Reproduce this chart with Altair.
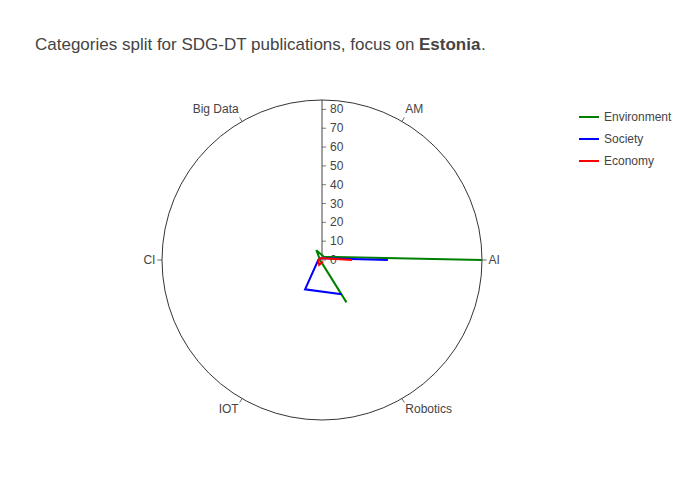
import math
import altair as alt
import pandas as pd

categories = ["AI", "AM", "Big Data", "CI", "IOT", "Robotics"]
angles = [0, 60, 120, 180, 240, 300]
environment = [85, 2, 6, 1, 1, 26]
society = [35, 1, 1, 2, 18, 21]
economy = [16, 1, 1, 2, 3, 1]
radial_ticks = [0, 10, 20, 30, 40, 50, 60, 70, 80]
R = 85

rows = []
for name, vals in [("Environment", environment), ("Society", society), ("Economy", economy)]:
    for i in range(len(categories)):
        rows.append({"series": name, "order": i, "r": vals[i], "angle": angles[i]})
df = pd.DataFrame(rows)

xs = alt.Scale(domain=[-R, R], nice=False, zero=False)
ys = alt.Scale(domain=[-R, R], nice=False, zero=False)


def X(f="x"):
    return alt.X(f"{f}:Q", scale=xs, axis=None)


def Y(f="y"):
    return alt.Y(f"{f}:Q", scale=ys, axis=None)


circle = alt.Chart(pd.DataFrame({"x": [0], "y": [0]})).mark_point(
    shape="circle", size=320 * 320, filled=False, color="black", strokeWidth=0.8, opacity=1
).encode(x=X(), y=Y())

cat_df = pd.DataFrame({"cat": categories, "angle": angles})
cat_df["x1"] = [R * math.cos(math.radians(a)) for a in angles]
cat_df["y1"] = [R * math.sin(math.radians(a)) for a in angles]
cat_df["x2"] = [(R + 2.5) * math.cos(math.radians(a)) for a in angles]
cat_df["y2"] = [(R + 2.5) * math.sin(math.radians(a)) for a in angles]
cat_df["lx"] = [(R + 3.5) * math.cos(math.radians(a)) for a in angles]
cat_df["ly"] = [(R + 3.5) * math.sin(math.radians(a)) for a in angles]
cat_df["side"] = ["left" if math.cos(math.radians(a)) > 0.1 else "right" for a in angles]
cat_df["vert"] = [
    "top" if math.sin(math.radians(a)) > 0.1 else ("bottom" if math.sin(math.radians(a)) < -0.1 else "mid")
    for a in angles
]

cat_ticks = alt.Chart(cat_df).mark_rule(color="#444", strokeWidth=0.8).encode(
    x=X("x1"), y=Y("y1"), x2="x2:Q", y2="y2:Q"
)


def cat_text(side, vert, baseline):
    return alt.Chart(cat_df).transform_filter(
        f"datum.side == '{side}' && datum.vert == '{vert}'"
    ).mark_text(
        align=side, baseline=baseline, font="Liberation Sans", fontSize=12, color="#444"
    ).encode(x=X("lx"), y=Y("ly"), text="cat:N")


cat_labels = [
    cat_text("left", "mid", "middle"),
    cat_text("right", "mid", "middle"),
    cat_text("left", "top", "bottom"),
    cat_text("right", "top", "bottom"),
    cat_text("left", "bottom", "top"),
    cat_text("right", "bottom", "top"),
]

raxis = alt.Chart(pd.DataFrame({"x": [0], "y": [0], "y2": [R]})).mark_rule(
    color="#444", strokeWidth=1
).encode(x=X(), y=Y(), y2="y2:Q")
rt_df = pd.DataFrame({"t": radial_ticks})
rticks = alt.Chart(rt_df).mark_tick(
    color="#444", thickness=1, size=4, orient="horizontal", xOffset=2
).encode(x=X("zero"), y=Y("t")).transform_calculate(zero="0")
rlabels = alt.Chart(rt_df).mark_text(
    align="left", baseline="middle", dx=8, font="Liberation Sans", fontSize=12, color="#444"
).encode(x=X("zero"), y=Y("t"), text="t:Q").transform_calculate(zero="0")

lines = alt.Chart(df).transform_calculate(
    x="datum.r * cos(datum.angle * PI / 180)",
    y="datum.r * sin(datum.angle * PI / 180)",
).mark_line(strokeWidth=2).encode(
    x=X(), y=Y(), order="order:Q",
    color=alt.Color(
        "series:N",
        scale=alt.Scale(domain=["Environment", "Society", "Economy"], range=["green", "blue", "red"]),
        sort=["Environment", "Society", "Economy"],
        legend=alt.Legend(
            title=None, orient="none", legendX=416, legendY=6, symbolType="stroke",
            symbolStrokeWidth=2, symbolSize=400, labelFont="Liberation Sans", labelFontSize=12,
            labelColor="#444", rowPadding=5,
        ),
    ),
)

title1 = alt.Chart(pd.DataFrame({"t": ["Categories split for SDG-DT publications, focus on "]})).mark_text(
    align="left", baseline="alphabetic", font="Liberation Sans", fontSize=17, color="#444"
).encode(x=alt.value(-127), y=alt.value(-50), text="t:N")
title2 = alt.Chart(pd.DataFrame({"t": ["Estonia"]})).mark_text(
    align="left", baseline="alphabetic", font="Liberation Sans", fontSize=17, fontWeight="bold", color="#444"
).encode(x=alt.value(257), y=alt.value(-50), text="t:N")
title3 = alt.Chart(pd.DataFrame({"t": ["."]})).mark_text(
    align="left", baseline="alphabetic", font="Liberation Sans", fontSize=17, color="#444"
).encode(x=alt.value(319), y=alt.value(-50), text="t:N")

chart = alt.layer(
    circle, cat_ticks, *cat_labels, raxis, rticks, rlabels, lines, title1, title2, title3
).properties(
    width=320, height=320,
    autosize=alt.AutoSizeParams(type="none"),
    padding={"left": 154, "top": 92, "right": 200, "bottom": 60},
).configure_view(stroke=None, clip=False)

chart.save("out.html", embed_options={"renderer": "svg", "actions": False})
